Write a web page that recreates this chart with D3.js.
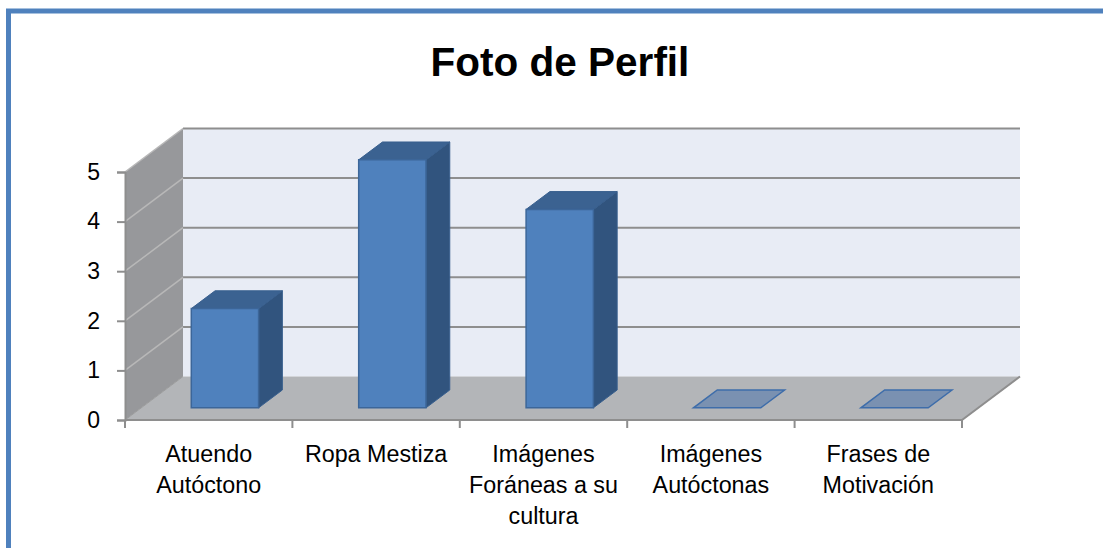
<!DOCTYPE html>
<html><head><meta charset="utf-8">
<script src="https://cdn.jsdelivr.net/npm/d3@7"></script>
<style>html,body{margin:0;padding:0;background:#fff;overflow:hidden}</style>
</head><body>
<svg id="c" width="1103" height="548"></svg>
<script>
const title = "Foto de Perfil";
const categories = ["Atuendo Autóctono", "Ropa Mestiza", "Imágenes Foráneas a su cultura", "Imágenes Autóctonas", "Frases de Motivación"];
const labelLines = [["Atuendo","Autóctono"],["Ropa Mestiza"],["Imágenes","Foráneas a su","cultura"],["Imágenes","Autóctonas"],["Frases de","Motivación"]];
const values = [2, 5, 4, 0, 0];
const yTicks = [0, 1, 2, 3, 4, 5];

const svg = d3.select("#c");
const font = "'Liberation Sans', Arial, sans-serif";

// blue frame
svg.append("rect").attr("x", 8.5).attr("y", 11).attr("width", 1200).attr("height", 700)
  .attr("fill", "none").attr("stroke", "#4F81BD").attr("stroke-width", 5);

svg.append("text").attr("x", 560).attr("y", 76).attr("text-anchor", "middle")
  .attr("font-family", font).attr("font-weight", "bold").attr("font-size", 40.5).attr("fill", "#000").text(title);

const x = d3.scaleBand().domain(categories).range([125, 962]);
const y = d3.scaleLinear().domain([0, 5]).range([420, 172]);
const DX = 58, DY = -43.5;
const P = (px, py, t) => [px + DX * t, py + DY * t];
const poly = pts => "M" + pts.map(p => p.join(",")).join("L") + "Z";

const x0 = x.range()[0], x1 = x.range()[1];
const yMin = y(0), yMax = y(5);

// back wall
svg.append("path").attr("d", poly([P(x0, yMin, 1), P(x1, yMin, 1), P(x1, yMax, 1), P(x0, yMax, 1)]))
  .attr("fill", "#E8ECF5");
// side wall
svg.append("path").attr("d", poly([P(x0, yMin, 0), P(x0, yMin, 1), P(x0, yMax, 1), P(x0, yMax, 0)]))
  .attr("fill", "#97989B");
// floor
svg.append("path").attr("d", poly([P(x0, yMin, 0), P(x1, yMin, 0), P(x1, yMin, 1), P(x0, yMin, 1)]))
  .attr("fill", "#B3B5B8");

// gridlines on back wall and side wall
yTicks.forEach(v => {
  const a = P(x0, y(v), 1), b = P(x1, y(v), 1), f = P(x0, y(v), 0);
  if (v > 0) {
    svg.append("line").attr("x1", a[0]).attr("y1", a[1]).attr("x2", b[0]).attr("y2", b[1])
      .attr("stroke", "#8E8E8E").attr("stroke-width", 2);
    svg.append("line").attr("x1", f[0]).attr("y1", f[1]).attr("x2", a[0]).attr("y2", a[1])
      .attr("stroke", "#B8B8B8").attr("stroke-width", 1.5);
  }
});
// floor edges
svg.append("path").attr("d", "M" + P(x0, yMin, 0).join(",") + "L" + P(x1, yMin, 0).join(",") + "L" + P(x1, yMin, 1).join(","))
  .attr("fill", "none").attr("stroke", "#8E8E8E").attr("stroke-width", 2);
svg.append("line").attr("x1", x0).attr("y1", yMin).attr("x2", P(x0, yMin, 1)[0]).attr("y2", P(x0, yMin, 1)[1])
  .attr("stroke", "#9a9a9a").attr("stroke-width", 1);

// y axis
const yAxis = svg.append("g").attr("transform", `translate(${x0},0)`)
  .call(d3.axisLeft(y).tickValues(yTicks).tickFormat(d3.format("d")).tickSize(8).tickPadding(17));
yAxis.select(".domain").attr("stroke", "#8E8E8E").attr("stroke-width", 2);
yAxis.selectAll(".tick line").attr("stroke", "#8E8E8E").attr("stroke-width", 2);
yAxis.selectAll(".tick text").attr("font-family", font).attr("font-size", 23).attr("fill", "#000");

// x axis ticks
const xt = categories.map(c => x(c)).concat([x1]);
svg.append("g").selectAll("line").data(xt).join("line")
  .attr("x1", d => d).attr("x2", d => d).attr("y1", yMin).attr("y2", yMin + 8)
  .attr("stroke", "#8E8E8E").attr("stroke-width", 2);

// labels
const lab = svg.append("g").attr("font-family", font).attr("font-size", 23.3).attr("fill", "#000").attr("text-anchor", "middle");
categories.forEach((c, i) => {
  const t = lab.append("text").attr("x", x(c) + x.bandwidth() / 2).attr("y", 462);
  labelLines[i].forEach((ln, j) => t.append("tspan").attr("x", x(c) + x.bandwidth() / 2).attr("y", 462 + j * 31).text(ln));
});

// bars
const t0 = 0.28, t1 = 0.69, bwFrac = 0.402;
const g = svg.append("g");
categories.forEach((c, i) => {
  const cx = x(c) + x.bandwidth() / 2, w = x.bandwidth() * bwFrac;
  const L = cx - w / 2, R = cx + w / 2, B = y(0), T = y(values[i]);
  if (values[i] === 0) {
    g.append("path").attr("d", poly([P(L, B, t0), P(R, B, t0), P(R, B, t1), P(L, B, t1)]))
      .attr("fill", "#7A91B1").attr("stroke", "#3E6DAA").attr("stroke-width", 1.5);
    return;
  }
  const stroke = "#385F8E";
  g.append("path").attr("d", poly([P(R, B, t0), P(R, B, t1), P(R, T, t1), P(R, T, t0)]))
    .attr("fill", "#31547E").attr("stroke", stroke).attr("stroke-width", 1);
  g.append("path").attr("d", poly([P(L, T, t0), P(R, T, t0), P(R, T, t1), P(L, T, t1)]))
    .attr("fill", "#3B6291").attr("stroke", stroke).attr("stroke-width", 1);
  g.append("path").attr("d", poly([P(L, B, t0), P(R, B, t0), P(R, T, t0), P(L, T, t0)]))
    .attr("fill", "#4F81BD").attr("stroke", "#3C6699").attr("stroke-width", 1.5);
});
</script>
</body></html>
